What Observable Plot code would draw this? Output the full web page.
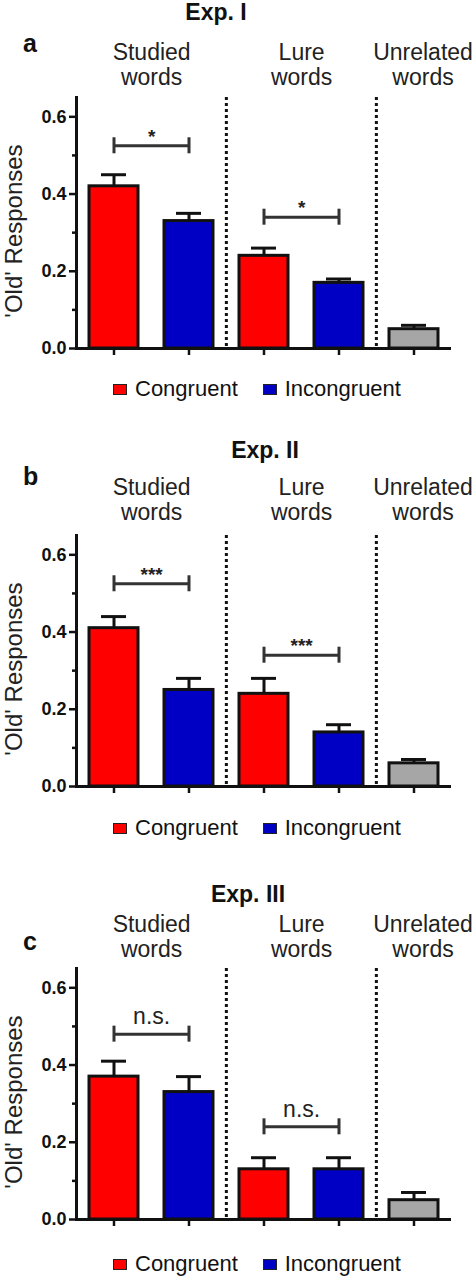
<!DOCTYPE html>
<html><head><meta charset="utf-8">
<script src="https://cdn.jsdelivr.net/npm/d3@7"></script>
<script src="https://cdn.jsdelivr.net/npm/@observablehq/plot@0.6"></script>
<style>
body{margin:0;background:#fff;font-family:"Liberation Sans",Arial,sans-serif;}
#root{position:relative;width:473px;height:1280px;overflow:hidden;background:#fff;}
.abs{position:absolute;line-height:1;white-space:nowrap;color:#111;}
.title{font-weight:bold;font-size:23px;transform:translateX(-50%);}
.letter{font-weight:bold;font-size:25px;}
.legend{font-size:22px;display:flex;align-items:baseline;}
.sw{display:inline-block;width:12px;height:9px;border:1px solid #222;margin-right:8px;position:relative;top:-1px;}
</style></head><body><div id="root"></div>
<script>
// ---- data ----
const categories = ["Studied Congruent","Studied Incongruent","Lure Congruent","Lure Incongruent","Unrelated"];
const conditions = ["Congruent","Incongruent","Congruent","Incongruent","Unrelated"];
const conditionDomain = ["Congruent","Incongruent","Unrelated"];
const groupHeaders = ["Studied\nwords","Lure\nwords","Unrelated\nwords"];
const groupFirstCategory = ["Studied Congruent","Lure Congruent","Unrelated"];
const groupBarCount = [2,2,1];
const separatorsBefore = ["Lure Congruent","Unrelated"];
const experiments = ["Exp. I","Exp. II","Exp. III"];
const panelLetters = ["a","b","c"];
const legendLabels = ["Congruent","Incongruent"];
const yTicks = [0,0.2,0.4,0.6];
const yMinorTicks = [0.1,0.3,0.5];
const yLabel = "'Old' Responses";

const meansExp1 = [0.42,0.33,0.24,0.17,0.05];
const upperExp1 = [0.45,0.35,0.26,0.18,0.06];
const meansExp2 = [0.41,0.25,0.24,0.14,0.06];
const upperExp2 = [0.44,0.28,0.28,0.16,0.07];
const meansExp3 = [0.37,0.33,0.13,0.13,0.05];
const upperExp3 = [0.41,0.37,0.16,0.16,0.07];

const sigFrom = ["Studied Congruent","Lure Congruent"];
const sigTo = ["Studied Incongruent","Lure Incongruent"];
const sigLabelsExp1 = ["*","*"];
const sigLevelsExp1 = [0.525,0.34];
const sigLabelsExp2 = ["***","***"];
const sigLevelsExp2 = [0.525,0.34];
const sigLabelsExp3 = ["n.s.","n.s."];
const sigLevelsExp3 = [0.48,0.24];

// ---- style / layout ----
const colors = ["#ff0000","#0000c4","#a6a6a6"];
const W = 473, ML = 76, MR = 22, MT = 97, PH = 251, MB = 14;
const padIn = 0.35, padOut = 0.166;
const step = (W - ML - MR) / (categories.length - padIn + 2 * padOut);
const font = "'Liberation Sans', Arial, sans-serif";

const panels = [
  {means: meansExp1, upper: upperExp1, sigL: sigLabelsExp1, sigY: sigLevelsExp1, top: 0,
   title: {cx: 216, base: 20.5}, letter: {x: 23, base: 52}, legendBase: 397, headDy: -13},
  {means: meansExp2, upper: upperExp2, sigL: sigLabelsExp2, sigY: sigLevelsExp2, top: 438,
   title: {cx: 265, base: 458}, letter: {x: 23, base: 485}, legendBase: 836, headDy: -16},
  {means: meansExp3, upper: upperExp3, sigL: sigLabelsExp3, sigY: sigLevelsExp3, top: 871,
   title: {cx: 248, base: 902}, letter: {x: 23, base: 950}, legendBase: 1272, headDy: -12}
];

const root = document.getElementById("root");

panels.forEach((p, pi) => {
  const data = categories.map((c, i) => ({cat: c, cond: conditions[i], mean: p.means[i], upper: p.upper[i]}));
  const brackets = sigFrom.map((f, i) => ({from: f, to: sigTo[i], level: p.sigY[i], label: p.sigL[i]}));
  const ends = brackets.flatMap(b => [{x: b.from, level: b.level}, {x: b.to, level: b.level}]);
  const headers = groupHeaders.map((h, i) => ({label: h, x: groupFirstCategory[i], n: groupBarCount[i]}));

  const svg = Plot.plot({
    width: W, height: MT + PH + MB,
    marginTop: MT, marginBottom: MB, marginLeft: ML, marginRight: MR,
    style: {fontFamily: font, fontSize: "18px", color: "#111", background: "transparent", overflow: "visible"},
    x: {type: "band", domain: categories, paddingInner: padIn, paddingOuter: padOut, label: null},
    y: {domain: [0, 0.65], label: null},
    color: {domain: conditionDomain, range: colors},
    marks: [
      Plot.axisY({ticks: yTicks, tickFormat: ".1f", tickSize: 7, tickPadding: 3, strokeWidth: 2.5,
                  fontWeight: "bold", fontSize: 18, label: null}),
      Plot.axisY({ticks: yMinorTicks, tickSize: 4, tickFormat: () => "", strokeWidth: 2.5, label: null}),
      Plot.axisX({tickSize: 7, tickFormat: () => "", strokeWidth: 2.5, label: null}),
      Plot.text([yLabel], {frameAnchor: "left", rotate: -90, dx: -72, dy: 8, lineAnchor: "top",
                  textAnchor: "middle", fontSize: 24, fill: "#222"}),
      Plot.ruleX(separatorsBefore, {x: d => d, dx: -step / 2, stroke: "#111", strokeWidth: 3, strokeDasharray: "3,3"}),
      Plot.ruleX(data, {x: "cat", y1: "mean", y2: "upper", stroke: "#111", strokeWidth: 3}),
      Plot.tickY(data, {x: "cat", y: "upper", stroke: "#111", strokeWidth: 3, insetLeft: 12, insetRight: 12}),
      Plot.barY(data, {x: "cat", y: "mean", fill: "cond", stroke: "#111", strokeWidth: 3}),
      Plot.link(brackets, {x1: "from", x2: "to", y1: "level", y2: "level", stroke: "#333", strokeWidth: 3}),
      Plot.ruleX(ends, {x: "x", y1: "level", y2: "level", insetTop: -8, insetBottom: -8, stroke: "#333", strokeWidth: 3}),
      Plot.text(brackets.filter(b => b.label.includes("*")), {x: "from", y: "level", text: "label", dx: step / 2, dy: -3,
                  lineAnchor: "bottom", fontWeight: "bold", fontSize: 19, fill: "#222"}),
      Plot.text(brackets.filter(b => !b.label.includes("*")), {x: "from", y: "level", text: "label", dx: step / 2, dy: -10,
                  lineAnchor: "bottom", fontSize: 23, fill: "#222"}),
      Plot.text(headers.filter(h => h.n === 2), {x: "x", text: "label", frameAnchor: "top", dx: step / 2, dy: p.headDy,
                  lineAnchor: "bottom", lineHeight: 1.07, fontSize: 23, fill: "#222"}),
      Plot.text(headers.filter(h => h.n === 1), {x: "x", text: "label", frameAnchor: "top", dx: 9, dy: p.headDy,
                  lineAnchor: "bottom", lineHeight: 1.07, fontSize: 23, fill: "#222"}),
      Plot.ruleY([0], {stroke: "#111", strokeWidth: 3}),
      Plot.frame({anchor: "left", stroke: "#111", strokeWidth: 3})
    ]
  });
  svg.style.position = "absolute";
  svg.style.left = "0px";
  svg.style.top = p.top + "px";
  root.appendChild(svg);

  const t = document.createElement("div");
  t.className = "abs title";
  t.textContent = experiments[pi];
  t.style.left = p.title.cx + "px";
  t.style.top = (p.title.base - 0.8465 * 23) + "px";
  root.appendChild(t);

  const l = document.createElement("div");
  l.className = "abs letter";
  l.textContent = panelLetters[pi];
  l.style.left = p.letter.x + "px";
  l.style.top = (p.letter.base - 0.8465 * 25) + "px";
  root.appendChild(l);

  const lg = document.createElement("div");
  lg.className = "abs legend";
  lg.style.left = "113px";
  lg.style.top = (p.legendBase - 0.8465 * 22) + "px";
  legendLabels.forEach((lab, i) => {
    const item = document.createElement("span");
    item.style.display = "inline-flex";
    item.style.alignItems = "baseline";
    item.style.marginRight = i === 0 ? "25px" : "0";
    const sw = document.createElement("span");
    sw.className = "sw";
    sw.style.background = colors[conditionDomain.indexOf(lab)];
    item.appendChild(sw);
    item.appendChild(document.createTextNode(lab));
    lg.appendChild(item);
  });
  root.appendChild(lg);
});
</script></body></html>
